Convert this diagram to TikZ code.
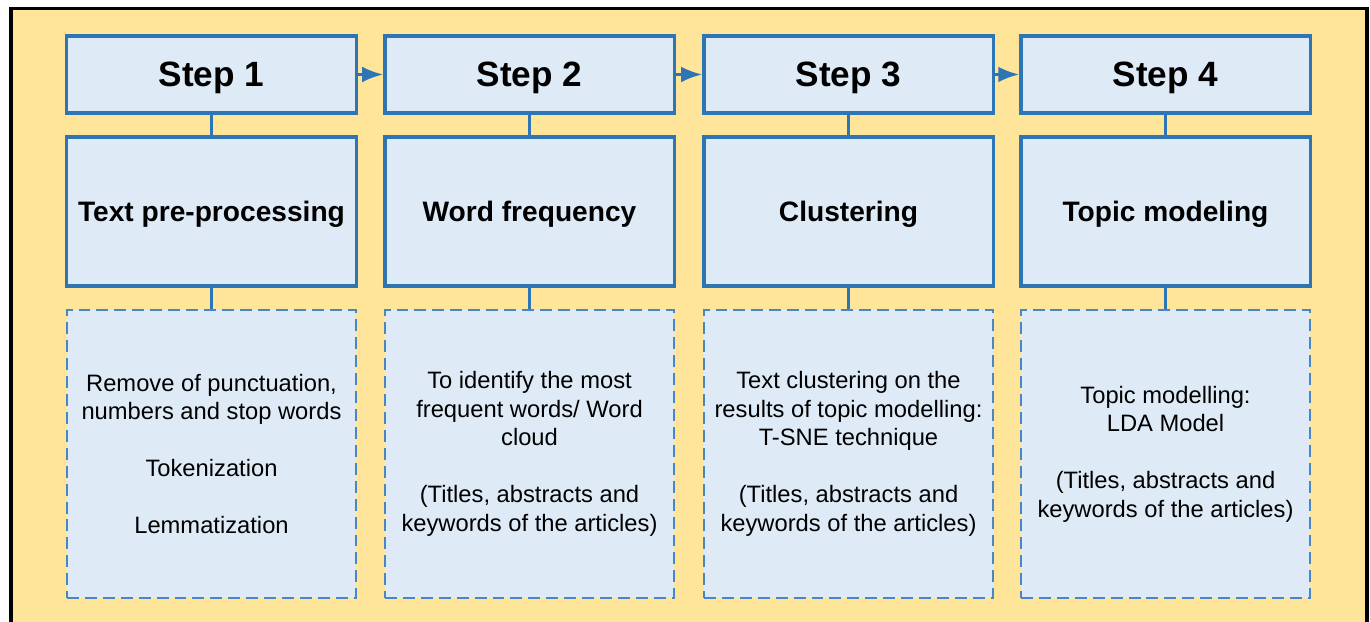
\documentclass[tikz,border=0pt]{standalone}
\usepackage{fontspec}
\setmainfont{Liberation Sans}
\usetikzlibrary{arrows.meta}
\definecolor{framefill}{HTML}{FFE599}
\definecolor{boxfill}{HTML}{DEEBF7}
\definecolor{boxline}{HTML}{2E75B6}
\definecolor{dashline}{HTML}{4A86C2}
\tikzset{
  stephead/.style={draw=boxline, fill=boxfill, line width=0.9pt, inner sep=0pt,
    minimum width=2.89cm, minimum height=0.77cm, text depth=0pt,
    font=\fontsize{10}{12}\selectfont\bfseries},
  stepname/.style={draw=boxline, fill=boxfill, line width=0.9pt, inner sep=0pt,
    minimum width=2.89cm, minimum height=1.49cm, text depth=0pt,
    font=\fontsize{8}{10}\selectfont\bfseries},
  stepinfo/.style={draw=dashline, fill=boxfill, line width=0.6pt, dash pattern=on 3.4pt off 1.7pt,
    inner sep=0pt, minimum width=2.89cm, minimum height=2.88cm, align=center,
    font=\fontsize{6.75}{8.1}\selectfont},
  link/.style={draw=boxline, line width=0.9pt}
}
\begin{document}
\begin{tikzpicture}[x=0.01cm, y=-0.01cm, >={Latex[length=6pt,width=4.5pt]}]
\useasboundingbox (0,0) rectangle (1370,622);
% frame
\fill[framefill] (11,8.5) rectangle (1367,622);
\draw[line width=1.1pt] (11,622) -- (11,8.5) -- (1367,8.5) -- (1367,622);

% headers
\node[stephead] (h1) at (211.5,74.5) {Step 1};
\node[stephead] (h2) at (529.5,74.5) {Step 2};
\node[stephead] (h3) at (848.5,74.5) {Step 3};
\node[stephead] (h4) at (1165.5,74.5) {Step 4};

% step names
\node[stepname] (n1) at (211.5,211.5) {Text pre-processing};
\node[stepname] (n2) at (529.5,211.5) {Word frequency};
\node[stepname] (n3) at (848.5,211.5) {Clustering};
\node[stepname] (n4) at (1165.5,211.5) {Topic modeling};

% details
\node[stepinfo] (d1) at (211.5,454) {Remove of punctuation,\\ numbers and stop words\\[8.1pt] Tokenization\\[8.1pt] Lemmatization};
\node[stepinfo] (d2) at (529.5,454) {To identify the most\\ frequent words/ Word\\ cloud\\[8.1pt] (Titles, abstracts and\\ keywords of the articles)};
\node[stepinfo] (d3) at (848.5,454) {Text clustering on the\\ results of topic modelling:\\ T-SNE technique\\[8.1pt] (Titles, abstracts and\\ keywords of the articles)};
\node[stepinfo] (d4) at (1165.5,454) {Topic modelling:\\ LDA Model\\[8.1pt] (Titles, abstracts and\\ keywords of the articles)};

% connectors
\draw[link, ->] (h1.east) -- (h2.west);
\draw[link, ->] (h2.east) -- (h3.west);
\draw[link, ->] (h3.east) -- (h4.west);
\foreach \i in {1,...,4}{
  \draw[link] (h\i.south) -- (n\i.north);
  \draw[link] (n\i.south) -- (d\i.north);
}
\end{tikzpicture}
\end{document}
